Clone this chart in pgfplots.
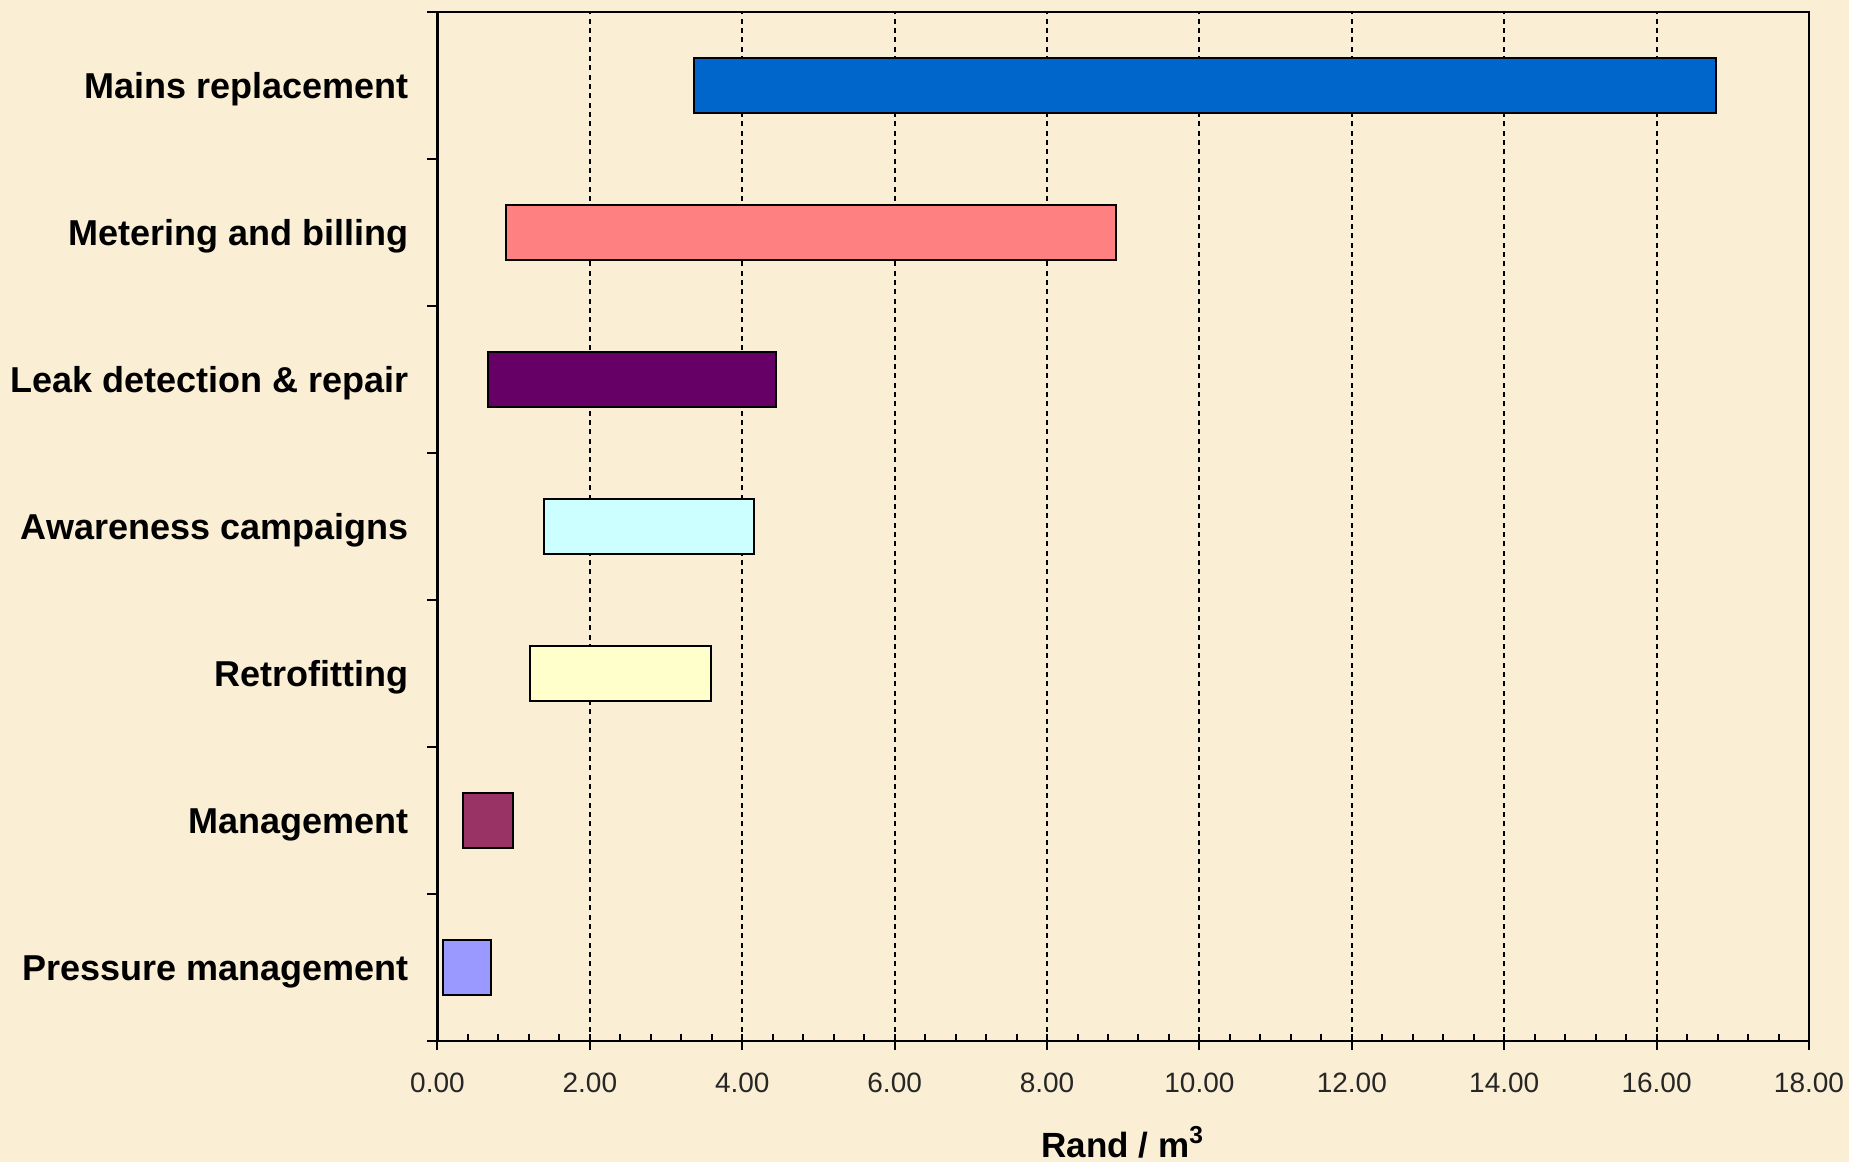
\documentclass[border=0pt]{standalone}
\usepackage{pgfplots}
\pgfplotsset{compat=1.18}
\usepackage{fontspec}
\setmainfont{Liberation Sans}
\definecolor{bg}{HTML}{FAEED5}
\definecolor{cMains}{HTML}{0066CC}
\definecolor{cMeter}{HTML}{FF8080}
\definecolor{cLeak}{HTML}{660066}
\definecolor{cAware}{HTML}{CCFFFF}
\definecolor{cRetro}{HTML}{FFFFCC}
\definecolor{cMgmt}{HTML}{993366}
\definecolor{cPress}{HTML}{9999FF}
\begin{document}
\begin{tikzpicture}
\fill[bg] (-131.25pt,-36.3pt) rectangle (423.45pt,312.3pt);
\begin{axis}[
  scale only axis, width=411.45pt, height=308.7pt,
  xmin=0, xmax=18, ymin=-0.5, ymax=6.5,
  axis line style={line width=0.75pt, black},
  every tick/.style={black, line width=0.6pt},
  tick align=inside,
  major tick length=2.1pt, minor tick length=2pt,
  xtick pos=bottom, ytick pos=left,
  xtick={0,2,...,18}, minor x tick num=4,
  extra x ticks={0,2,...,18}, extra x tick labels={},
  extra x tick style={tick align=outside, major tick length=2.7pt, grid=none},
  xmajorgrids,
  major grid style={black, line width=0.6pt, dash pattern=on 1.5pt off 1.3pt},
  /pgf/number format/assume math mode=true,
  xticklabel style={/pgf/number format/.cd, fixed, fixed zerofill, precision=2, /tikz/.cd,
     font=\fontsize{8.4}{10}\selectfont, text=black!85, inner sep=0pt, anchor=north, yshift=-9.3pt},
  ytick={0,...,6},
  yticklabels={Pressure management, Management, Retrofitting, Awareness campaigns, Leak detection \& repair, Metering and billing, Mains replacement},
  y tick style={draw=none},
  yticklabel style={font=\fontsize{10.8}{12}\selectfont\bfseries, anchor=base east, inner sep=0pt, xshift=-8.5pt, yshift=-3.85pt},
  extra y ticks={-0.5,0.5,...,6.5}, extra y tick labels={},
  extra y tick style={tick align=outside, major tick length=3pt, y tick style={draw=black}, grid=none},
  xlabel={\textbf{Rand / m\textsuperscript{3}}},
  xlabel style={at={(axis description cs:0.5,0)}, anchor=base, inner sep=0pt, yshift=-34.8pt, font=\fontsize{10.5}{12}\selectfont},
]
% bars: from start to end value, half height 0.19 around category
\addplot[fill=cMains, draw=black, line width=0.6pt] coordinates {(3.37,5.81) (16.78,5.81) (16.78,6.19) (3.37,6.19)} -- cycle;
\addplot[fill=cMeter, draw=black, line width=0.6pt] coordinates {(0.90,4.81) (8.90,4.81) (8.90,5.19) (0.90,5.19)} -- cycle;
\addplot[fill=cLeak, draw=black, line width=0.6pt] coordinates {(0.66,3.81) (4.44,3.81) (4.44,4.19) (0.66,4.19)} -- cycle;
\addplot[fill=cAware, draw=black, line width=0.6pt] coordinates {(1.40,2.81) (4.15,2.81) (4.15,3.19) (1.40,3.19)} -- cycle;
\addplot[fill=cRetro, draw=black, line width=0.6pt] coordinates {(1.21,1.81) (3.59,1.81) (3.59,2.19) (1.21,2.19)} -- cycle;
\addplot[fill=cMgmt, draw=black, line width=0.6pt] coordinates {(0.33,0.81) (0.99,0.81) (0.99,1.19) (0.33,1.19)} -- cycle;
\addplot[fill=cPress, draw=black, line width=0.6pt] coordinates {(0.07,-0.19) (0.70,-0.19) (0.70,0.19) (0.07,0.19)} -- cycle;
\end{axis}
\pgfresetboundingbox
\useasboundingbox (-131.25pt,-36.3pt) rectangle (423.45pt,312.3pt);
\end{tikzpicture}
\end{document}
